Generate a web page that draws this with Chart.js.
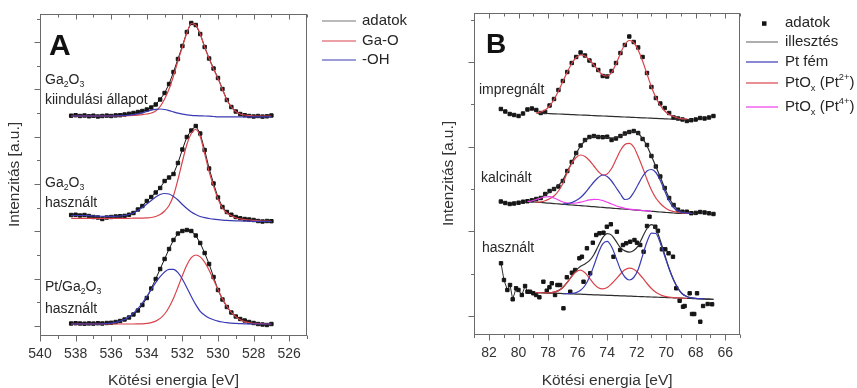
<!DOCTYPE html>
<html>
<head>
<meta charset="utf-8">
<script src="https://cdn.jsdelivr.net/npm/chart.js@4.4.1/dist/chart.umd.min.js"></script>
<style>
  html, body { margin: 0; padding: 0; background: #fff; }
  #wrap { position: relative; width: 857px; height: 388px; overflow: hidden; }
  canvas { position: absolute; top: 0; }
  #cA { left: 0; }
  #cB { left: 430px; }
</style>
</head>
<body>
<div id="wrap">
  <canvas id="cA" width="430" height="388"></canvas>
  <canvas id="cB" width="427" height="388"></canvas>
</div>
<script>
// ---- panel A: O 1s, binding energy grid [eV]
const energyA = [538.25,538,537.75,537.5,537.25,537,536.75,536.5,536.25,536,
  535.75,535.5,535.25,535,534.75,534.5,534.25,534,533.75,533.5,533.25,533,532.75,532.5,532.25,532,
  531.75,531.5,531.25,531,530.75,530.5,530.25,530,529.75,529.5,529.25,529,528.75,528.5,528.25,528,
  527.75,527.5,527.25,527];
// vertical offsets of the stacked spectra (kiindulási, használt, Pt/használt)
const offsetsA = [210, 104.5, 2];

// Ga2O3 kiindulási állapot
const dataA1 = [0.3,0.8,0,0.5,-0.3,0.3,-0.5,0,0.4,0,
  0.6,0.8,1.5,2.2,3,4,5,6.5,8.5,11.5,16.5,23,32,44,57,70,84,93,91,82,69,57.5,47.5,38,27,16,9,4.5,2,0.8,0,-0.5,
  0,-0.6,-0.3,0.5];
const gaoA1 = [0,0,0,0,0,0,0,0,0,0,
  0,0.1,0.2,0.3,0.5,0.8,1.3,2,3,5,9.5,17,27,40,55,69,83,92.5,91,82,69,57.5,47,37.5,26.5,16,9,4.5,2,1,0.4,0,
  0,0,0,0];
const ohA1 = [0,0,0,0,0,0,0,0,0,0,
  0.1,0.3,0.5,0.8,1.3,2,3.2,4.5,5.8,6.7,7,6.5,5.4,4.1,2.8,1.8,1.1,0.6,0.3,0.1,0,-0.2,-0.5,-0.8,-0.8,-0.8,-0.8,-0.8,-0.8,-0.8,-0.8,-0.8,
  -0.8,-0.8,-0.8,-0.8];

// Ga2O3 használt
const dataA2 = [6.5,6.8,6.0,6.5,5.5,4.5,4.0,2.5,4.0,4.5,
  5,5.3,5.6,6.8,8.5,12,15.5,20.5,24.5,29,33.5,40.5,44,47.5,58.5,72,84.5,91,95.5,88,71.5,53,38,24,14.5,9.5,6.8,4.5,3.2,2.5,2,1.5,
  0.5,0,0.5,0.3];
const gaoA2 = [3.2,3.2,3.2,3.2,3.2,3.2,3.2,3.2,3.2,3.2,
  3.2,3.2,3.2,3.2,3.3,3.3,3.4,3.6,4,5,7,10.5,16,26,42,60,77,88,92,85,68,50,35.5,22.5,13.5,8.5,5.8,3.8,2.6,2,1.5,1.2,
  0.8,0.5,0.3,0.2];
const ohA2 = [6,6,6,6,5.8,5.5,5.3,5.2,5.1,5.1,
  5.2,5.5,6,7,8.5,11,14,17.5,21,24.5,27,28,27.5,25,21.5,17,13,9.5,7,5,3.8,3,2.3,1.8,1.4,1.1,0.9,0.7,0.5,0.4,0.3,0.2,
  0.1,0,0,0];

// Pt/Ga2O3 használt
const dataA3 = [0.5,0.8,0.5,0.3,0.6,0.4,0.8,0.5,1,1.2,
  2,3,4.5,6.5,9.5,13.5,19,26,35.5,45,55,65,75,84,90.5,93,94,93,88.5,81,71,60,47,34,24.5,17,11.5,7.5,5,3.5,2,1,
  0,-0.5,-1,0];
const gaoA3 = [0,0,0,0,0,0,0,0,0,0,
  0,0,0,0,0,0.1,0.2,0.6,1.4,2.9,5.6,10,16.8,25.8,36.8,48.4,59,66.3,69,67.1,61.8,53.8,44.3,34.5,25.4,17.7,11.7,7.3,4.3,2.4,1.3,0.6,
  0.3,0.1,0,0];
const ohA3 = [0,0,0,0,0,0,0,0.2,0.4,0.9,
  1.6,2.9,4.6,7.2,10.8,15.4,21,27.5,34.4,41.4,47.3,52,54.6,54.7,51.3,44.8,36.3,27.5,19.4,12.7,8.8,6,4.2,2.9,2,1.3,0.9,0.6,0.4,0.2,0.1,0,
  0,0,0,0];

const xTicksA = [540, 538, 536, 534, 532, 530, 528, 526];

// ---- panel B: Pt 4f, binding energy grid [eV]
const energyB = [81.2,80.9,80.6,80.3,80.0,79.7,79.4,79.1,78.8,78.5,78.2,77.9,77.6,77.3,77.0,76.7,
  76.4,76.1,75.8,75.5,75.2,74.9,74.6,74.3,74.0,73.7,73.4,73.1,72.8,72.5,72.2,71.9,71.6,71.3,71.0,
  70.7,70.4,70.1,69.8,69.5,69.2,68.9,68.6,68.3,68.0,67.7,67.4,67.1,66.8];
const offsetsB = [197, 102.5, 17];

// impregnált
const dataB1 = [10,7.5,5,4,3,5.5,9.5,10.5,9,6,7,13.5,20,29,38,47,56,62,66.5,63.5,58.5,54,49,43,42.5,
  48,56,66,74,82.5,77,71.5,62,46,32,21,15.5,11,6,1.5,0.5,-0.5,-2,-1.2,-0.5,1,0.5,1.5,3];
const pt2B1 = [null,null,null,null,null,null,null,null,
  6,7,9,13,19.5,28,37.5,47,55.5,61.5,64,63,59,54,48.5,44,43,46.5,55,65.5,74.5,78.5,76.5,69,58,45,32,
  21.5,13.5,8,4.5,2.5,1,0.2,0,null,null,null,null,null,null];
const bgB1 = [null,null,null,null,null,null,null,null,
  6.0,5.8,5.6,5.4,5.2,5.0,4.8,4.6,4.4,4.2,4.0,3.8,3.6,3.4,3.2,3.0,2.8,2.6,2.4,2.2,2.0,1.8,1.6,1.4,1.2,1.0,
  0.8,0.6,0.4,0.2,0,-0.2,-0.4,-0.5,-0.6,-0.7,null,null,null,null,null];

// kalcinált
const dataB2 = [12,10.5,9.5,10,10.8,11.8,12.3,13.2,14.5,15.5,19.5,22.5,24.5,27,32.5,42.5,51.5,60.5,68,73.5,
  76.5,77.5,76.5,76.3,76.8,73.5,75,77.5,80,81.5,82.5,80.5,74.5,68.5,57.5,47,37,25.5,15.5,8.5,3.8,1.8,1.8,
  0.3,0.6,1.5,1,0.2,-0.5];
const fitB2 = [null,null,null,null,null,null,
  12.3,13,14.5,16,18.5,21.5,24.5,28,33.5,42,51,60,67.5,72.5,75.5,77,77,76.5,76,75.5,76,77.5,79.5,81.5,82,
  80,75,67.5,57.5,47,36.5,25.5,15.5,8.5,4,1.8,0.8,0.3,0,null,null,null,null];
const bgB2 = [null,null,null,null,null,null,
  12.0,11.65,11.3,11.0,10.6,10.3,9.9,9.6,9.2,8.9,8.5,8.2,7.8,7.5,7.1,6.8,6.4,6.1,5.7,5.4,5.0,4.7,4.3,4.0,3.6,
  3.3,2.9,2.6,2.2,1.9,1.5,1.2,0.8,0.5,0.2,0.1,0,0,0,null,null,null,null];
const ptB2 = [null,null,null,null,null,null,null,null,null,null,null,null,null,null,
  9.5,10,11,13,16,20.5,26,31.5,36,38.5,37,32.5,26,19.5,14,15,21,29,37,42.5,44,41,33,22.5,12.5,6,2.5,1,0.3,0,
  null,null,null,null,null];
const pt2B2 = [null,null,null,null,null,null,null,null,
  11.3,11.6,12.8,14.8,17.5,22.5,30,41,50,56,58.5,57,53,47.5,42,38.5,39.5,45,54,63,69,70.2,66.5,57,46,34,23.5,
  15.5,10,6,3.3,2,1.2,0.5,0.2,0,null,null,null,null,null];
const pt4B2 = [null,null,null,null,null,null,
  12,12.5,14,15.5,16.5,16.8,15.5,13.5,11.5,10.5,10.2,10.5,11.3,12.5,13.6,14.2,14,13,11.3,9.5,7.8,6.3,5.2,4.4,
  3.8,3.4,3.0,2.6,2.2,null,null,null,null,null,null,null,null,null,null,null,null,null,null];

// használt (measured points are not on the common grid)
const energyB3 = [81.19,80.99,80.76,80.58,80.40,80.17,80.01,79.78,79.56,79.40,79.22,79.00,78.81,78.59,78.32,
  78.09,77.91,77.75,77.53,77.37,77.19,76.96,76.73,76.50,76.39,76.17,75.88,75.71,75.60,75.37,75.15,74.97,
  74.74,74.52,74.25,74.02,73.75,73.57,73.34,73.12,72.93,72.71,72.44,72.15,71.98,71.76,71.53,71.30,71.13,
  70.74,70.56,70.29,70.06,69.84,69.54,69.32,69.09,68.86,68.75,68.41,68.25,68.10,67.91,67.69,67.50,67.19,66.89];
const dataB3 = [35.7,19,9,14,-0.3,10.7,9,4,13,7.3,7.3,5.7,4,1.7,17.3,8.3,11.7,15.7,4,14,14,-9.3,21.7,7.3,
  26.3,29,40.7,42.3,17.3,50.7,25.7,56.3,64,65.7,66.3,72.3,74.7,42.3,67.3,49,54,55.7,57.3,59,56.3,54,47.3,
  73,82.3,72.3,68.3,49.7,49.7,45.7,42.3,10.7,-1.7,-7.7,-7,5.7,-15,-15,5.7,-22.7,-7,-5,-5.3];
const fitB3 = [null,null,null,null,null,null,null,null,
  6.4,6.3,6.2,6.2,6.8,8.4,11.5,16.7,22.9,28.7,32.7,35.1,38.3,44.3,53,61.3,65.3,63.9,57.8,51.3,48.1,46.9,
  48.6,53.2,62.1,70.5,74.4,70.4,58.5,44.2,30.5,19.2,10.6,5,2.5,1.2,0.6,0.3,0.1,-0.2,-0.3];
const bgB3 = [null,null,null,null,null,null,null,null,
  6.4,6.3,6.1,5.9,5.8,5.6,5.4,5.3,5.1,4.9,4.8,4.6,4.4,4.2,4.1,3.9,3.7,3.6,3.4,3.2,3.1,2.9,2.7,2.5,2.4,
  2.2,2.0,1.9,1.7,1.5,1.4,1.2,1.0,0.8,0.7,0.5,0.3,0.2,0.0,-0.2,-0.3];
const ptB3 = [null,null,null,null,null,null,null,null,null,null,null,null,null,null,
  5.4,5.4,5.6,6.4,8.7,13.5,21.8,33.3,45.8,55.1,57.6,52.3,41.3,29.5,22,19,21.5,29.5,43.4,57.2,65.9,65.5,
  55.9,43,30,19,10.5,5,2.5,1.2,0.6,0.3,0.1,null,null];
const pt2B3 = [null,null,null,null,null,null,null,null,
  6.4,6.3,6.2,6.2,6.8,8.4,11.5,16.6,22.4,27.2,28.8,26.2,20.9,15.2,11.3,10.1,11.4,15.2,19.9,25.0,29.2,30.8,
  29.8,26.2,21.1,15.5,10.5,6.8,4.3,2.7,1.9,1.4,1.05,0.8,0.7,null,null,null,null,null,null];

const xTicksB = [82, 80, 78, 76, 74, 72, 70, 68, 66];

// ---- styles
const C_DATA = '#151515';
const C_FIT = '#2e2e2e';
const C_RED = '#d8434c';
const C_BLUE = '#3a3ab4';
const C_MAG = '#ee3cee';
const FONT = '"Liberation Sans", Arial, Helvetica, sans-serif';
Chart.defaults.font.family = FONT;

function pts(xs, ys, off) {
  const out = [];
  ys.forEach((v, i) => { if (v !== null) out.push({x: xs[i], y: v + off}); });
  return out;
}
function curve(xs, ys, off, color, order) {
  return {data: pts(xs, ys, off), showLine: true, borderColor: color, borderWidth: 1.2,
    pointRadius: 0, cubicInterpolationMode: 'monotone', order: order};
}
function marks(xs, ys, off, extra) {
  return Object.assign({data: pts(xs, ys, off), showLine: false, borderColor: C_DATA, borderWidth: 1,
    pointStyle: 'rect', pointRadius: 2.4, pointBorderWidth: 1,
    pointBackgroundColor: C_DATA, pointBorderColor: C_DATA, order: 6}, extra || {});
}

// rich text with _sub and ^sup parts
function rich(ctx, parts, x, y, size) {
  let cx = x;
  parts.forEach(p => {
    let t = p, fs = size, dy = 0;
    if (p[0] === '_') { t = p.slice(1); fs = size * 0.62; dy = size * 0.32; }
    else if (p[0] === '^') { t = p.slice(1); fs = size * 0.62; dy = -size * 0.38; }
    ctx.font = fs + 'px ' + FONT;
    ctx.fillText(t, cx, y + dy);
    cx += ctx.measureText(t).width;
  });
}

// frame, tick marks, panel letter, curve labels and legend
const panelDecor = {
  id: 'panelDecor',
  afterDraw(chart, args, o) {
    const {ctx, chartArea: a} = chart;
    const xs = chart.scales.x, ys = chart.scales.y;
    const L = Math.round(a.left) + 0.5, R = Math.round(a.right) - 0.5;
    const T = Math.round(a.top) + 0.5, B = Math.round(a.bottom) + 0.5;
    ctx.save();
    ctx.strokeStyle = '#6a6a6a';
    ctx.lineWidth = 1;
    ctx.strokeRect(L, T, R - L, B - T);
    ctx.beginPath();
    for (let v = Math.ceil(xs.min); v <= xs.max; v++) {
      const px = Math.round(xs.getPixelForValue(v)) + 0.5;
      const major = v % 2 === 0;
      ctx.moveTo(px, B); ctx.lineTo(px, B + (major ? 6 : 3.5));
      ctx.moveTo(px, T); ctx.lineTo(px, T + (major ? 5 : 3));
    }
    for (let k = 0; k * o.yStep / 2 <= ys.max; k++) {
      const py = Math.round(ys.getPixelForValue(k * o.yStep / 2)) + 0.5;
      ctx.moveTo(L, py); ctx.lineTo(L - (k % 2 === 0 ? 6 : 3.5), py);
    }
    ctx.stroke();

    ctx.fillStyle = '#111';
    ctx.textBaseline = 'alphabetic';
    ctx.font = 'bold ' + o.letter.size + 'px ' + FONT;
    ctx.fillText(o.letter.text, o.letter.x, o.letter.y);

    ctx.fillStyle = '#262626';
    ctx.textBaseline = 'middle';
    o.labels.forEach(l => rich(ctx, l.parts, l.x, l.y, 14));

    const lg = o.legend;
    lg.rows.forEach(r => {
      if (r.kind === 'square') {
        ctx.fillStyle = r.color;
        ctx.fillRect(lg.sx - 2, r.y - 2, 4.5, 4.5);
      } else {
        ctx.strokeStyle = r.color;
        ctx.lineWidth = 1.2;
        ctx.beginPath();
        ctx.moveTo(lg.x0, Math.round(r.y));
        ctx.lineTo(lg.x1, Math.round(r.y));
        ctx.stroke();
      }
      ctx.fillStyle = '#262626';
      rich(ctx, r.parts, lg.tx, r.y, 15);
    });
    ctx.restore();
  }
};

function makeChart(id, cfg) {
  return new Chart(document.getElementById(id), {
    type: 'scatter',
    data: {datasets: cfg.datasets},
    options: {
      responsive: false,
      animation: false,
      events: [],
      layout: {padding: cfg.padding},
      plugins: {legend: {display: false}, tooltip: {enabled: false}, panelDecor: cfg.decor},
      scales: {
        x: {
          type: 'linear', reverse: true, min: cfg.xMin, max: cfg.xMax,
          afterFit: s => { s.height = cfg.xHeight; },
          afterBuildTicks: s => { s.ticks = cfg.xTicks.map(v => ({value: v})); },
          grid: {display: false, drawTicks: false},
          border: {display: false},
          ticks: {padding: 11, color: '#333', font: {size: 14}, maxRotation: 0, autoSkip: false},
          title: {display: true, text: 'Kötési energia [eV]', color: '#333',
            font: {size: 15.5, lineHeight: 1}, padding: 0}
        },
        y: {
          type: 'linear', min: cfg.yMin, max: cfg.yMax,
          afterFit: s => { s.width = cfg.yWidth; },
          grid: {display: false, drawTicks: false},
          border: {display: false},
          ticks: {display: false},
          title: {display: true, text: 'Intenzitás [a.u.]', color: '#333',
            font: {size: 15.5, lineHeight: 1}, padding: {top: cfg.yTitlePad, bottom: 0}}
        }
      }
    },
    plugins: [panelDecor]
  });
}

// ---- panel A
const setsA = [];
[[dataA1, gaoA1, ohA1], [dataA2, gaoA2, ohA2], [dataA3, gaoA3, ohA3]].forEach((s, i) => {
  setsA.push(marks(energyA, s[0], offsetsA[i], {showLine: true, borderColor: C_DATA}));
  setsA.push(curve(energyA, s[1], offsetsA[i], C_RED, 1));
  setsA.push(curve(energyA, s[2], offsetsA[i], C_BLUE, 0));
});

makeChart('cA', {
  datasets: setsA,
  padding: {left: 0, top: 14, right: 123, bottom: 0},
  xMin: 525, xMax: 540, xTicks: xTicksA, xHeight: 53,
  yMin: -9, yMax: 312, yWidth: 40, yTitlePad: 7,
  decor: {
    yStep: 47.3,
    letter: {text: 'A', x: 49, y: 55, size: 30},
    labels: [
      {parts: ['Ga', '_2', 'O', '_3'], x: 45, y: 80},
      {parts: ['kiindulási állapot'], x: 45, y: 100},
      {parts: ['Ga', '_2', 'O', '_3'], x: 45, y: 183},
      {parts: ['használt'], x: 45, y: 203},
      {parts: ['Pt/Ga', '_2', 'O', '_3'], x: 45, y: 287},
      {parts: ['használt'], x: 45, y: 309}
    ],
    legend: {x0: 322, x1: 356, tx: 362, rows: [
      {kind: 'line', color: '#777', parts: ['adatok'], y: 20.7},
      {kind: 'line', color: C_RED, parts: ['Ga-O'], y: 40.7},
      {kind: 'line', color: C_BLUE, parts: ['-OH'], y: 60}
    ]}
  }
});

// ---- panel B
const setsB = [
  marks(energyB, dataB1, offsetsB[0]),
  curve(energyB, bgB1, offsetsB[0], C_FIT, 2),
  curve(energyB, pt2B1, offsetsB[0], C_RED, 1),

  marks(energyB, dataB2, offsetsB[1]),
  curve(energyB, fitB2, offsetsB[1], C_FIT, 4),
  curve(energyB, bgB2, offsetsB[1], C_FIT, 2),
  curve(energyB, pt4B2, offsetsB[1], C_MAG, 1),
  curve(energyB, pt2B2, offsetsB[1], C_RED, 1),
  curve(energyB, ptB2, offsetsB[1], C_BLUE, 0),

  marks(energyB3, dataB3, offsetsB[2], {
    showLine: true,
    segment: {borderColor: c => (c.p1.parsed.x > 78.5 ? C_FIT : 'rgba(0,0,0,0)')}
  }),
  curve(energyB, bgB3, offsetsB[2], C_FIT, 2),
  curve(energyB, fitB3, offsetsB[2], C_FIT, 2),
  curve(energyB, pt2B3, offsetsB[2], C_RED, 1),
  curve(energyB, ptB3, offsetsB[2], C_BLUE, 0)
];

makeChart('cB', {
  datasets: setsB,
  padding: {left: 0, top: 13, right: 117, bottom: 0},
  xMin: 65, xMax: 83, xTicks: xTicksB, xHeight: 54,
  yMin: -18, yMax: 303, yWidth: 44.3, yTitlePad: 11,
  decor: {
    yStep: 84.7,
    letter: {text: 'B', x: 56, y: 53, size: 28},
    labels: [
      {parts: ['impregnált'], x: 49, y: 90},
      {parts: ['kalcinált'], x: 51, y: 178},
      {parts: ['használt'], x: 52, y: 248}
    ],
    legend: {x0: 316, x1: 348, sx: 334, tx: 355, rows: [
      {kind: 'square', color: C_DATA, parts: ['adatok'], y: 23.3},
      {kind: 'line', color: '#777', parts: ['illesztés'], y: 41.7},
      {kind: 'line', color: C_BLUE, parts: ['Pt fém'], y: 61.7},
      {kind: 'line', color: C_RED, parts: ['PtO', '_x', ' (Pt', '^2+', ')'], y: 83.3},
      {kind: 'line', color: C_MAG, parts: ['PtO', '_x', ' (Pt', '^4+', ')'], y: 107.3}
    ]}
  }
});
</script>
</body>
</html>
